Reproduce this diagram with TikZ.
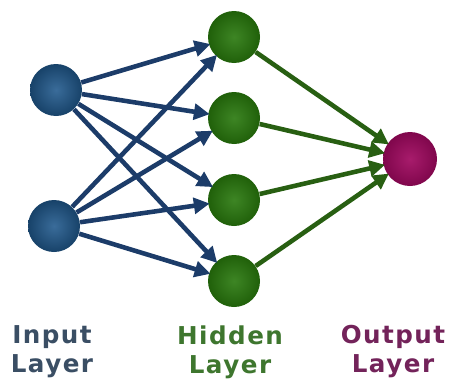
\documentclass[tikz,border=0pt]{standalone}
\usepackage{fontspec}
\setmainfont{DejaVu Sans}
\usetikzlibrary{arrows.meta,positioning}
\definecolor{InBlue}{RGB}{31, 88, 140}
\definecolor{HidGreen}{RGB}{40, 120, 12}
\definecolor{OutPurple}{RGB}{160, 8, 95}
\definecolor{EdgeBlue}{RGB}{28, 60, 105}
\definecolor{EdgeGreen}{RGB}{40, 95, 18}
\definecolor{TxtBlue}{RGB}{58, 78, 100}
\definecolor{TxtGreen}{RGB}{62, 118, 46}
\definecolor{TxtPurple}{RGB}{115, 35, 90}

\begin{document}
\begin{tikzpicture}[
    neuron/.style={circle, minimum size=1.04cm, inner sep=0pt, shading=radial},
    inneuron/.style={neuron, inner color=InBlue!88!white, outer color=InBlue!75!black},
    hidneuron/.style={neuron, inner color=HidGreen!90!white, outer color=HidGreen!80!black},
    outneuron/.style={neuron, minimum size=1.08cm, inner color=OutPurple!92!white, outer color=OutPurple!80!black},
    link/.style={line width=2.6pt, -{Triangle[length=9pt,width=9pt]}, shorten >=-1pt},
    layertext/.style={align=center, font=\fontsize{14}{16.5}\selectfont\bfseries\addfontfeatures{LetterSpace=6}}
  ]
  \useasboundingbox (0,0) rectangle (9.12,7.64);

  % Input layer
  \node[inneuron] (in1) at (1.12, 5.84) {};
  \node[inneuron] (in2) at (1.08, 3.12) {};

  % Hidden layer
  \node[hidneuron] (h1) at (4.68, 6.90) {};
  \node[hidneuron] (h2) at (4.68, 5.28) {};
  \node[hidneuron] (h3) at (4.68, 3.64) {};
  \node[hidneuron] (h4) at (4.68, 2.02) {};

  % Output layer
  \node[outneuron] (out) at (8.20, 4.46) {};

  % Connections
  \foreach \i in {1,2}
    \foreach \j in {1,...,4}
      \draw[link, EdgeBlue] (in\i) -- (h\j);
  \foreach \j in {1,...,4}
    \draw[link, EdgeGreen] (h\j) -- (out);

  % Layer labels
  \node[layertext, TxtBlue] (inlab) at (1.04, 0.60) {Input\\Layer};
  \node[layertext, TxtGreen] (hidlab) at (4.60, 0.60) {Hidden\\Layer};
  \node[layertext, TxtPurple] (outlab) at (7.86, 0.60) {Output\\Layer};
\end{tikzpicture}
\end{document}
